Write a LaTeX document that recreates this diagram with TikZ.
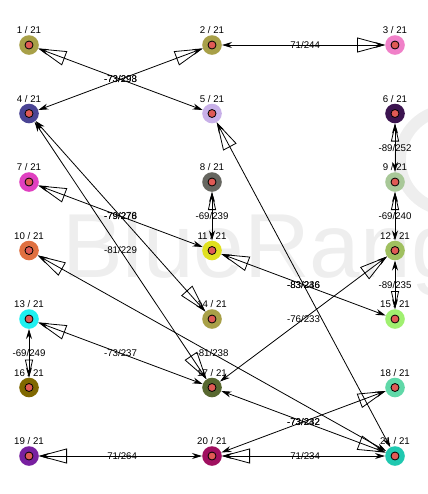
\documentclass[tikz,border=0pt]{standalone}
\usepackage{fontspec}
\setmainfont{Liberation Sans}
\usetikzlibrary{arrows.meta,decorations.markings}

\definecolor{dotred}{HTML}{E05A55}
\definecolor{wmgray}{HTML}{EEEEEE}
\definecolor{c1}{HTML}{A8A048}
\definecolor{c3}{HTML}{F080C8}
\definecolor{c4}{HTML}{4A4494}
\definecolor{c5}{HTML}{C8B0E8}
\definecolor{c6}{HTML}{3C1450}
\definecolor{c7}{HTML}{E040C0}
\definecolor{c8}{HTML}{666660}
\definecolor{c9}{HTML}{A8C898}
\definecolor{c10}{HTML}{E07040}
\definecolor{c11}{HTML}{E0E020}
\definecolor{c12}{HTML}{A0C060}
\definecolor{c13}{HTML}{20F0F0}
\definecolor{c15}{HTML}{A0F070}
\definecolor{c16}{HTML}{806800}
\definecolor{c17}{HTML}{586830}
\definecolor{c18}{HTML}{60D8A8}
\definecolor{c19}{HTML}{7820A0}
\definecolor{c20}{HTML}{A01060}
\definecolor{c21}{HTML}{20C8B0}

\begin{document}
\begin{tikzpicture}[x=183pt,y=-68.5pt,
  vtx/.style={circle,fill=#1,minimum size=19.6pt,inner sep=0pt,
    path picture={\draw[fill=dotred,line width=0.8pt] (path picture bounding box.center) circle (4pt);}},
  every label/.style={font=\fontsize{9.7}{11}\selectfont,inner sep=1pt},
  link/.style={line width=0.8pt,{Stealth[length=10pt,width=6pt]}-{Stealth[length=10pt,width=6pt]}},
  opentip/.style 2 args={postaction={decorate,decoration={markings,
    mark=at position 1 with {\arrow[line width=0.8pt]{Triangle[open,length=#1,width=#2]}}}}},
  bigtip/.style={opentip={28pt}{15pt}},
  smalltip/.style={opentip={18pt}{8pt}},
  elbl/.style={font=\fontsize{9.7}{11}\selectfont,inner sep=0pt}]
  \useasboundingbox (-0.1585,-0.657) rectangle (2.1803,6.5547);
  % watermark
  \node[anchor=base west,text=wmgray,font=\fontsize{91}{100}\selectfont,inner sep=0pt] (wm) at (0.18,3.387) {BlueRange};
  \draw[wmgray,line width=12pt] (2.3,1.68) circle (50pt);

  \node[vtx=c1,label=above:{1 / 21}] (1) at (0,0) {};
  \node[vtx=c1,label=above:{2 / 21}] (2) at (1,0) {};
  \node[vtx=c3,label=above:{3 / 21}] (3) at (2,0) {};
  \node[vtx=c4,label=above:{4 / 21}] (4) at (0,1) {};
  \node[vtx=c5,label=above:{5 / 21}] (5) at (1,1) {};
  \node[vtx=c6,label=above:{6 / 21}] (6) at (2,1) {};
  \node[vtx=c7,label=above:{7 / 21}] (7) at (0,2) {};
  \node[vtx=c8,label=above:{8 / 21}] (8) at (1,2) {};
  \node[vtx=c9,label=above:{9 / 21}] (9) at (2,2) {};
  \node[vtx=c10,label=above:{10 / 21}] (10) at (0,3) {};
  \node[vtx=c11,label=above:{11 / 21}] (11) at (1,3) {};
  \node[vtx=c12,label=above:{12 / 21}] (12) at (2,3) {};
  \node[vtx=c13,label=above:{13 / 21}] (13) at (0,4) {};
  \node[vtx=c1,label=above:{14 / 21}] (14) at (1,4) {};
  \node[vtx=c15,label=above:{15 / 21}] (15) at (2,4) {};
  \node[vtx=c16,label=above:{16 / 21}] (16) at (0,5) {};
  \node[vtx=c17,label=above:{17 / 21}] (17) at (1,5) {};
  \node[vtx=c18,label=above:{18 / 21}] (18) at (2,5) {};
  \node[vtx=c19,label=above:{19 / 21}] (19) at (0,6) {};
  \node[vtx=c20,label=above:{20 / 21}] (20) at (1,6) {};
  \node[vtx=c21,label=above:{21 / 21}] (21) at (2,6) {};

  \draw[link,bigtip] (5) -- node[elbl]{-73/298} (1);
  \draw[link,bigtip] (4) -- node[elbl]{-73/293} (2);
  \draw[link,bigtip] (2) -- node[elbl]{-71/244} (3);
  \draw[link,bigtip] (4) -- node[elbl]{-79/278} (14);
  \draw[link,bigtip] (4) -- node[elbl]{-81/229} (17);
  \draw[link,bigtip] (21) -- node[elbl]{-83/246} (5);
  \draw[link,smalltip] (9) -- node[elbl]{-89/252} (6);
  \draw[link,smalltip] (12) -- node[elbl]{-69/240} (9);
  \draw[link,smalltip] (12) -- node[elbl]{-89/235} (15);
  \draw[link,bigtip] (11) -- node[elbl]{-79/276} (7);
  \draw[link,smalltip] (11) -- node[elbl]{-69/239} (8);
  \draw[link,bigtip] (15) -- node[elbl]{-83/236} (11);
  \draw[link,bigtip] (17) -- node[elbl]{-76/233} (12);
  \draw[link,bigtip] (21) -- node[elbl]{-81/238} (10);
  \draw[link,bigtip] (17) -- node[elbl]{-73/237} (13);
  \draw[link,smalltip] (13) -- node[elbl]{-69/249} (16);
  \draw[link,bigtip] (17) -- node[elbl]{-73/242} (21);
  \draw[link,bigtip] (20) -- node[elbl]{-73/232} (18);
  \draw[link,bigtip] (20) -- node[elbl]{-71/264} (19);
  \draw[link,bigtip] (21) -- node[elbl]{-71/234} (20);
\end{tikzpicture}
\end{document}
